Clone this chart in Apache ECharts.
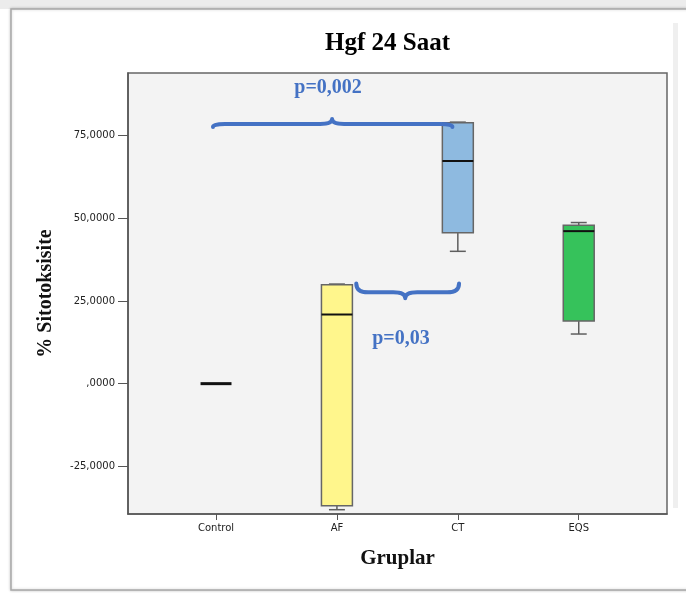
<!DOCTYPE html>
<html><head><meta charset="utf-8">
<script src="https://cdn.jsdelivr.net/npm/echarts@6/dist/echarts.min.js"></script>
<style>html,body{margin:0;padding:0;background:#fff}#c{width:686px;height:593px}</style>
</head><body><div id="c"></div>
<script>
// ---- data ----
const categories = ['Control', 'AF', 'CT', 'EQS'];
// [min, Q1, median, Q3, max]
const boxControl = [0, 0, 0, 0, 0];
const boxAF = [-38.1, -36.9, 20.9, 29.9, 30.1];
const boxCT = [40.0, 45.6, 67.3, 78.85, 79.05];
const boxEQS = [15.0, 18.9, 46.1, 47.9, 48.7];
const yTicks = [-25, 0, 25, 50, 75];
// significance annotations: [xStart, xEnd, xTip, yEnd, yMid, yTip]
const braceWide = [-0.025, 1.955, 0.96, 77.6, 78.5, 80.0];
const braceNarrow = [1.16, 2.01, 1.565, 30.3, 27.6, 25.8];
const pLabels = ['p=0,002', 'p=0,03'];
const pLabelPos = [[0.927, 89.4], [1.53, 13.6]];

const boxColors = ['#f2f2f2', '#FFF68C', '#8EBAE0', '#36C25B'];
const boxes = [boxControl, boxAF, boxCT, boxEQS];
const boxData = boxes.map((b, i) => [i].concat(b));

const chart = echarts.init(document.getElementById('c'));
const serif = '"Liberation Serif", "Times New Roman", serif';
const sans = '"DejaVu Sans", sans-serif';

function renderBox(params, api) {
  const x = api.value(0);
  const mn = api.coord([x, api.value(1)]);
  const q1 = api.coord([x, api.value(2)]);
  const md = api.coord([x, api.value(3)]);
  const q3 = api.coord([x, api.value(4)]);
  const mx = api.coord([x, api.value(5)]);
  const unit = api.size([1, 0])[0];
  const bw = unit * 0.256, cw = unit * 0.132;
  const cx = q1[0];
  const isFlat = Math.abs(q1[1] - q3[1]) < 0.5;
  const wStyle = {stroke: '#5e5e5e', lineWidth: 1.5};
  const children = [];
  if (!isFlat) {
    children.push(
      {type: 'line', shape: {x1: cx, y1: mx[1], x2: cx, y2: q3[1]}, style: wStyle},
      {type: 'line', shape: {x1: cx, y1: q1[1], x2: cx, y2: mn[1]}, style: wStyle},
      {type: 'line', shape: {x1: cx - cw / 2, y1: mx[1], x2: cx + cw / 2, y2: mx[1]}, style: wStyle},
      {type: 'line', shape: {x1: cx - cw / 2, y1: mn[1], x2: cx + cw / 2, y2: mn[1]}, style: wStyle},
      {type: 'rect', shape: {x: cx - bw / 2, y: q3[1], width: bw, height: q1[1] - q3[1]},
       style: {fill: boxColors[params.dataIndex], stroke: '#666', lineWidth: 1.5}}
    );
  }
  children.push({type: 'line', shape: {x1: cx - bw / 2, y1: md[1], x2: cx + bw / 2, y2: md[1]},
    style: {stroke: '#111', lineWidth: isFlat ? 3 : 2}});
  return {type: 'group', children};
}

function renderBrace(params, api) {
  const a = api.coord([api.value(0), api.value(3)]);
  const b = api.coord([api.value(1), api.value(3)]);
  const tip = api.coord([api.value(2), api.value(5)]);
  const yMid = api.coord([api.value(0), api.value(4)])[1];
  const r = 12;
  const p = 'M' + a[0] + ' ' + a[1] +
    ' Q' + a[0] + ' ' + yMid + ' ' + (a[0] + r) + ' ' + yMid +
    ' L' + (tip[0] - r) + ' ' + yMid +
    ' Q' + tip[0] + ' ' + yMid + ' ' + tip[0] + ' ' + tip[1] +
    ' Q' + tip[0] + ' ' + yMid + ' ' + (tip[0] + r) + ' ' + yMid +
    ' L' + (b[0] - r) + ' ' + yMid +
    ' Q' + b[0] + ' ' + yMid + ' ' + b[0] + ' ' + b[1];
  return {type: 'path', shape: {pathData: p},
    style: {fill: 'none', stroke: '#4472C4', lineWidth: 4, lineCap: 'round', lineJoin: 'round'}};
}

function renderPLabel(params, api) {
  const c = api.coord([api.value(0), api.value(1)]);
  return {type: 'text', x: c[0], y: c[1],
    style: {text: pLabels[params.dataIndex], fill: '#4472C4', font: 'bold 20px ' + serif,
      align: 'center', verticalAlign: 'middle'}};
}

chart.setOption({
  backgroundColor: '#ffffff',
  animation: false,
  graphic: [
    {type: 'rect', shape: {x: 0, y: 0, width: 686, height: 9}, style: {fill: '#ececec'}, z: -10},
    {type: 'rect', shape: {x: 11, y: 9, width: 680, height: 581}, style: {fill: '#fff', stroke: '#a8a8a8', lineWidth: 1.5,
      shadowBlur: 3, shadowColor: 'rgba(0,0,0,0.2)'}, z: -9},
    {type: 'rect', shape: {x: 673, y: 23, width: 5, height: 485}, style: {fill: '#efefef'}, z: -8}
  ],
  title: {
    text: 'Hgf 24 Saat', left: 320, top: 26,
    textStyle: {fontFamily: serif, fontWeight: 'bold', fontSize: 25, color: '#000'}
  },
  grid: {left: 128, right: 19, top: 73, bottom: 79, show: true, backgroundColor: '#f3f3f3',
    borderColor: '#666', borderWidth: 1.5, containLabel: false},
  xAxis: {
    type: 'value', min: -0.728, max: 3.73,
    name: 'Gruplar', nameLocation: 'middle', nameGap: 34,
    nameTextStyle: {fontFamily: serif, fontWeight: 'bold', fontSize: 21, color: '#111'},
    splitLine: {show: false},
    axisLine: {show: true, onZero: false, lineStyle: {color: '#555', width: 1.5}},
    axisTick: {show: true, length: 6, customValues: [0, 1, 2, 3], lineStyle: {color: '#555'}},
    axisLabel: {customValues: [0, 1, 2, 3], formatter: v => categories[Math.round(v)] || '',
      fontFamily: sans, fontSize: 10, color: '#222', margin: 9}
  },
  yAxis: {
    type: 'value', min: -39.4, max: 93.9,
    name: '% Sitotoksisite', nameLocation: 'middle', nameGap: 72,
    nameTextStyle: {fontFamily: serif, fontWeight: 'bold', fontSize: 20, color: '#111'},
    splitLine: {show: false},
    axisLine: {show: true, onZero: false, lineStyle: {color: '#555', width: 1.5}},
    axisTick: {show: true, length: 10, customValues: yTicks, lineStyle: {color: '#555'}},
    axisLabel: {customValues: yTicks,
      formatter: v => v === 0 ? ',0000' : v.toFixed(4).replace('.', ','),
      fontFamily: sans, fontSize: 10, color: '#222', margin: 13}
  },
  series: [
    {type: 'custom', name: 'box', data: boxData, renderItem: renderBox, clip: false,
      encode: {x: 0, y: [1, 2, 3, 4, 5]}, z: 2},
    {type: 'custom', name: 'braces', data: [braceWide, braceNarrow], renderItem: renderBrace,
      encode: {x: [0, 1, 2], y: [3, 4, 5]}, z: 5},
    {type: 'custom', name: 'p', data: pLabelPos, renderItem: renderPLabel,
      encode: {x: 0, y: 1}, z: 6}
  ]
});
</script></body></html>
